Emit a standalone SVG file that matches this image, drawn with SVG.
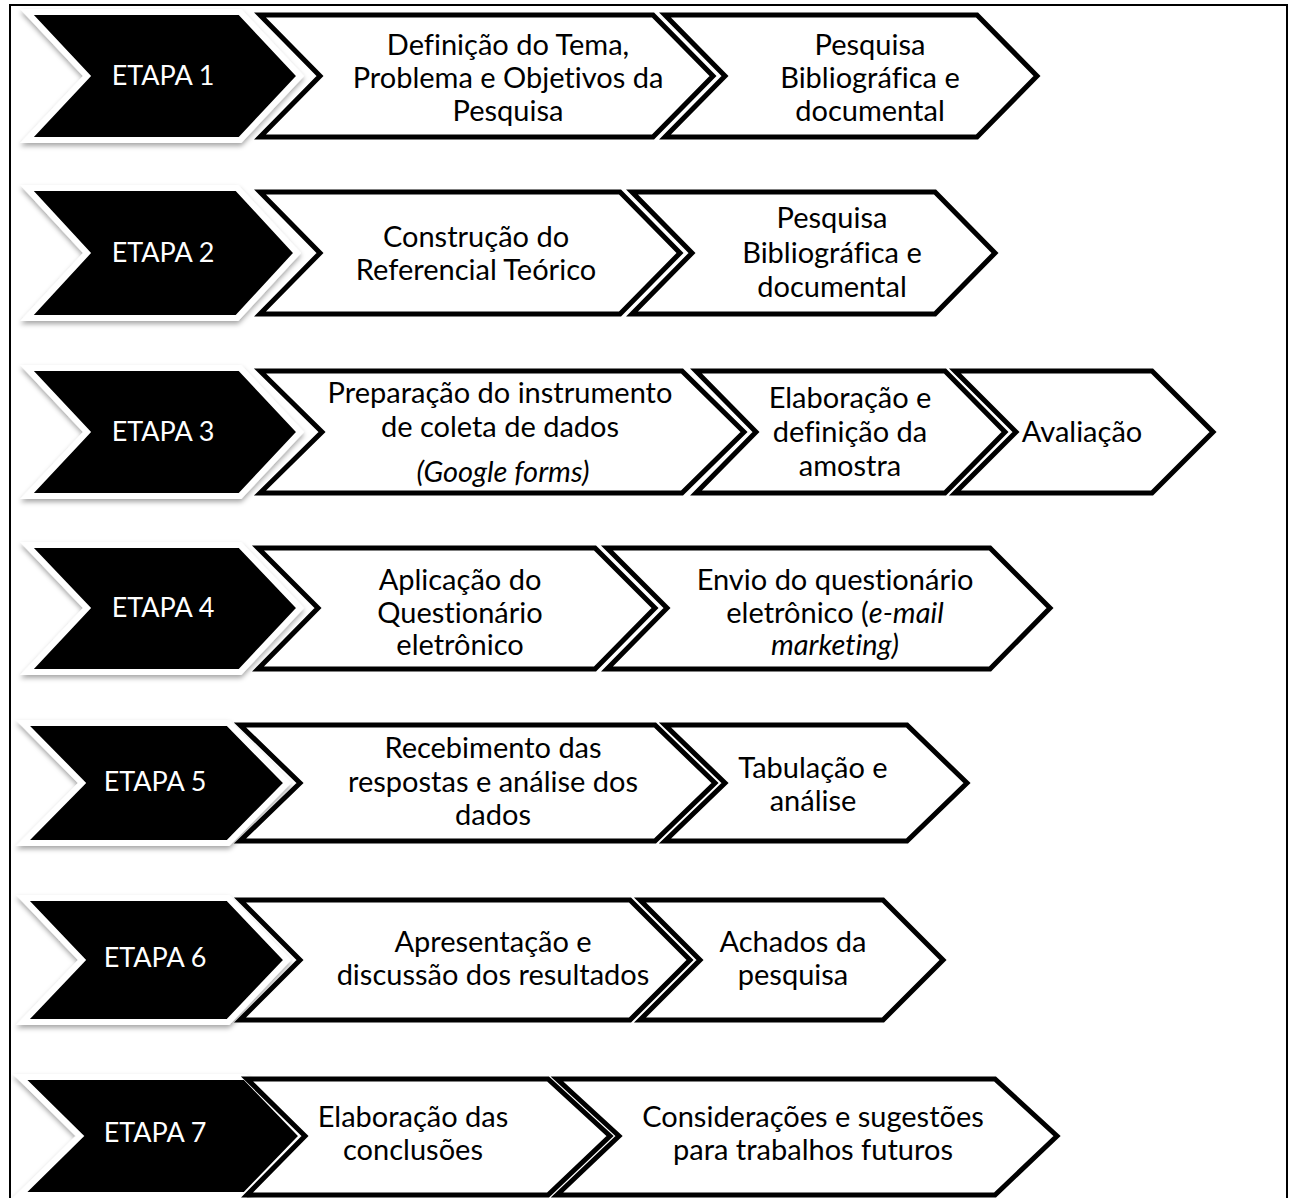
<svg xmlns="http://www.w3.org/2000/svg" width="1293" height="1198" viewBox="0 0 1293 1198">
<style>
.blk{fill:#000;stroke:#fff;stroke-width:6;stroke-linejoin:miter;filter:url(#sh)}
.wht{fill:#fff;stroke:#000;stroke-width:5;stroke-linejoin:miter}
.t{font-family:Lato,"Liberation Sans",sans-serif;font-size:29px;text-anchor:middle;fill:#000;font-variant-ligatures:none;font-feature-settings:"liga" 0,"dlig" 0}
.tw{fill:#fff;font-size:27px}
.i{font-style:italic}
</style>
<defs>
<filter id="sh" x="-10%" y="-10%" width="120%" height="130%">
<feDropShadow dx="0" dy="3" stdDeviation="2.5" flood-color="#000" flood-opacity="0.35"/>
</filter>
</defs>
<rect x="10" y="5" width="1277" height="1200" fill="#fff" stroke="#000" stroke-width="2"/>

<g id="row1">
<g id="etapa1"><polygon class="blk" points="27,12 240,12 300,76 240,140 27,140 87,76"/><text class="t tw" x="163" y="85">ETAPA 1</text></g>
<g id="r1n1"><polygon class="wht" points="260,15 653,15 713,76 653,137 260,137 320,76"/>
<text class="t" x="508" y="55">Definição do Tema,</text><text class="t" x="508" y="88">Problema e Objetivos da</text><text class="t" x="508" y="121">Pesquisa</text></g>
<g id="r1n2"><polygon class="wht" points="665,15 977,15 1037,76 977,137 665,137 725,76"/>
<text class="t" x="870" y="55">Pesquisa</text><text class="t" x="870" y="88">Bibliográfica e</text><text class="t" x="870" y="121">documental</text></g>
</g>

<g id="row2">
<g id="etapa2"><polygon class="blk" points="27,188 237,188 297,253 237,318 27,318 87,253"/><text class="t tw" x="163" y="262">ETAPA 2</text></g>
<g id="r2n1"><polygon class="wht" points="260,192 620,192 680,253 620,314 260,314 320,253"/>
<text class="t" x="476" y="247">Construção do</text><text class="t" x="476" y="280">Referencial Teórico</text></g>
<g id="r2n2"><polygon class="wht" points="632,192 935,192 995,253 935,314 632,314 692,253"/>
<text class="t" x="832" y="228">Pesquisa</text><text class="t" x="832" y="263">Bibliográfica e</text><text class="t" x="832" y="297">documental</text></g>
</g>

<g id="row3">
<g id="etapa3"><polygon class="blk" points="27,368 240,368 300,432 240,496 27,496 87,432"/><text class="t tw" x="163" y="441">ETAPA 3</text></g>
<g id="r3n1"><polygon class="wht" points="260,371 682,371 744,432 682,493 260,493 322,432"/>
<text class="t" x="500" y="403">Preparação do instrumento</text><text class="t" x="500" y="437">de coleta de dados</text><text class="t i" x="503" y="482">(Google forms)</text></g>
<g id="r3n2"><polygon class="wht" points="696,371 945,371 1005,432 945,493 696,493 756,432"/>
<text class="t" x="850" y="408">Elaboração e</text><text class="t" x="850" y="442">definição da</text><text class="t" x="850" y="476">amostra</text></g>
<g id="r3n3"><polygon class="wht" points="955,371 1152,371 1213,432 1152,493 955,493 1016,432"/>
<text class="t" x="1082" y="442">Avaliação</text></g>
</g>

<g id="row4">
<g id="etapa4"><polygon class="blk" points="27,545 240,545 300,608 240,672 27,672 87,608"/><text class="t tw" x="163" y="617">ETAPA 4</text></g>
<g id="r4n1"><polygon class="wht" points="258,548 595,548 655,608 595,669 258,669 318,608"/>
<text class="t" x="460" y="590">Aplicação do</text><text class="t" x="460" y="623">Questionário</text><text class="t" x="460" y="655">eletrônico</text></g>
<g id="r4n2"><polygon class="wht" points="607,548 990,548 1050,608 990,669 607,669 667,608"/>
<text class="t" x="835" y="590">Envio do questionário</text><text class="t" x="835" y="623">eletrônico (<tspan class="i">e-mail</tspan></text><text class="t i" x="835" y="655">marketing)</text></g>
</g>

<g id="row5">
<g id="etapa5"><polygon class="blk" points="23,723 228,723 287,783 228,843 23,843 82,783"/><text class="t tw" x="155" y="791">ETAPA 5</text></g>
<g id="r5n1"><polygon class="wht" points="240,725 655,725 715,783 655,841 240,841 300,783"/>
<text class="t" x="493" y="758">Recebimento das</text><text class="t" x="493" y="792">respostas e análise dos</text><text class="t" x="493" y="825">dados</text></g>
<g id="r5n2"><polygon class="wht" points="665,725 907,725 967,783 907,841 665,841 725,783"/>
<text class="t" x="813" y="778">Tabulação e</text><text class="t" x="813" y="811">análise</text></g>
</g>

<g id="row6">
<g id="etapa6"><polygon class="blk" points="23,898 228,898 287,960 228,1022 23,1022 82,960"/><text class="t tw" x="155" y="967">ETAPA 6</text></g>
<g id="r6n1"><polygon class="wht" points="240,900 630,900 690,960 630,1020 240,1020 300,960"/>
<text class="t" x="493" y="952">Apresentação e</text><text class="t" x="493" y="985">discussão dos resultados</text></g>
<g id="r6n2"><polygon class="wht" points="640,900 883,900 943,960 883,1020 640,1020 700,960"/>
<text class="t" x="793" y="952">Achados da</text><text class="t" x="793" y="985">pesquisa</text></g>
</g>

<g id="row7">
<g id="etapa7"><polygon class="blk" points="20,1077 245,1077 302,1136 245,1195 20,1195 80,1136"/><text class="t tw" x="155" y="1142">ETAPA 7</text></g>
<g id="r7n1"><polygon class="wht" points="247,1079 548,1079 610,1136 548,1195 247,1195 305,1136"/>
<text class="t" x="413" y="1127">Elaboração das</text><text class="t" x="413" y="1160">conclusões</text></g>
<g id="r7n2"><polygon class="wht" points="557,1079 995,1079 1057,1136 995,1195 557,1195 619,1136"/>
<text class="t" x="813" y="1127">Considerações e sugestões</text><text class="t" x="813" y="1160">para trabalhos futuros</text></g>
</g>
<g id="connectors"></g>
</svg>
